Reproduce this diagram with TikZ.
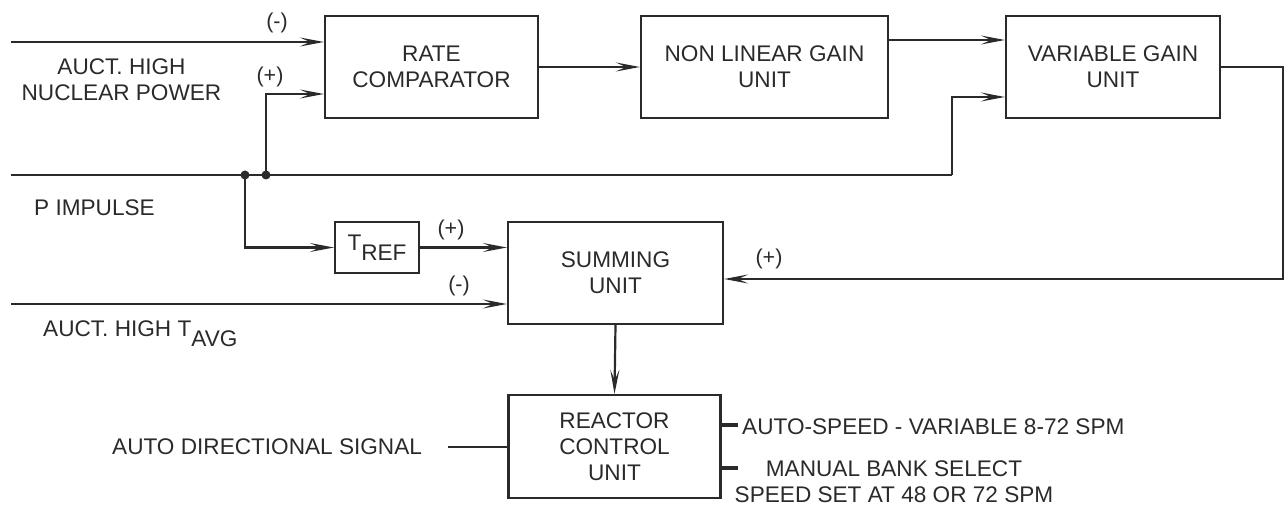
\documentclass[tikz,border=0pt]{standalone}
\usepackage{fontspec}
\setmainfont{Liberation Sans}
\usetikzlibrary{arrows.meta}
\definecolor{ink}{HTML}{2A2A2A}
\tikzset{
  box/.style={draw=ink, line width=2.2pt, minimum width=#1, inner sep=0pt, align=center, text=ink, font=\fontsize{22.6}{26}\selectfont},
  box/.default=200pt,
  wire/.style={draw=ink, line width=2.2pt},
  arr/.style={wire, arrows={-Stealth[length=24pt, width=9pt, inset=10pt]}},
  lbl/.style={text=ink, font=\fontsize{22.6}{26}\selectfont, inner sep=0pt, align=center},
  sgn/.style={text=ink, font=\fontsize{21.5}{24}\selectfont, inner sep=0pt},
  dot/.style={circle, fill=ink, inner sep=0pt, minimum size=9pt},
  tick/.style={draw=ink, line width=3.5pt}
}
\newcommand{\sbs}[1]{\raisebox{-0.42em}{#1}}
\begin{document}
\begin{tikzpicture}[x=1pt, y=-1pt]
\useasboundingbox (0,0) rectangle (1286,505);
% boxes
\node[box=213pt, minimum height=102pt] (rate) at (431.5,67) {RATE\\COMPARATOR};
\node[box=247pt, minimum height=102pt] (nl) at (764.5,67) {NON LINEAR GAIN\\UNIT};
\node[box=214pt, minimum height=102pt] (var) at (1113,67) {VARIABLE GAIN\\UNIT};
\node[box=215pt, minimum height=102pt] (sum) at (615.5,273) {SUMMING\\UNIT};
\node[box=212pt, minimum height=103pt] (rcu) at (614.5,446.5) {REACTOR\\CONTROL\\UNIT};
\node[box=84pt, minimum height=51pt] (tref) at (377,247.5) {T\sbs{REF}};
% free ends
\coordinate (nucin) at (11,42);
\coordinate (pin) at (11,175);
\coordinate (tavgin) at (11,304);
\coordinate (j1) at (245,175);
\coordinate (j2) at (266,175);
\coordinate (pend) at (952,175);
\coordinate (fbx) at (1283,67);
\coordinate (adsend) at (448,447);
% connectors
\draw[arr] (nucin) -- (nucin -| rate.west);
\draw[wire] (pin) -- (pend);
\draw[arr] (pend) |- ([yshift=-30pt]var.west);
\draw[arr] (j2) |- ([yshift=-27pt]rate.west);
\draw[arr] (rate.east) -- (nl.west);
\draw[arr] ([yshift=27pt]nl.east) -- ([yshift=27pt]var.west);
\draw[arr] (j1) |- (tref.west);
\draw[arr] (tref.east) -- (tref.east -| sum.west);
\draw[arr] (tavgin) -- (tavgin -| sum.west);
\draw[arr] (var.east) -- (fbx) |- ([yshift=-6pt]sum.east);
\draw[arr] (sum.south) -- (rcu.north);
\draw[wire] (adsend) -- (adsend -| rcu.west);
\draw[tick] ([yshift=21.5pt]rcu.east) -- ++(16,0);
\draw[tick] ([yshift=-21.5pt]rcu.east) -- ++(16,0);
\node[dot] (d1) at (j1) {};
\node[dot] (d2) at (j2) {};
% labels
\node[lbl] (nuc) at (121.5,80) {AUCT. HIGH\\NUCLEAR POWER};
\node[lbl, anchor=west] (pimp) at (34,208) {P IMPULSE};
\node[lbl, anchor=base west] (tavg) at (43,337) {AUCT. HIGH T\sbs{AVG}};
\node[lbl, anchor=west] (ads) at (112,447) {AUTO DIRECTIONAL SIGNAL};
\node[lbl, anchor=west] (auto) at (742,427) {AUTO-SPEED - VARIABLE 8-72 SPM};
\node[lbl] (man) at (894,482) {MANUAL BANK SELECT\\SPEED SET AT 48 OR 72 SPM};
\node[sgn] (s1) at (277,23) {(-)};
\node[sgn] (s2) at (270,77) {(+)};
\node[sgn] (s3) at (451,230) {(+)};
\node[sgn] (s4) at (459,286) {(-)};
\node[sgn] (s5) at (769,259) {(+)};
\end{tikzpicture}
\end{document}
